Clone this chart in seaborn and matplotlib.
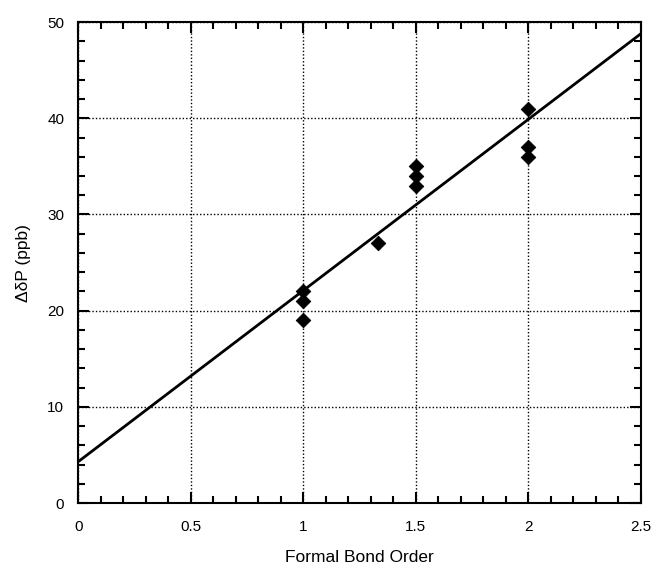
import numpy as np
import pandas as pd
import matplotlib
matplotlib.use("Agg")
import matplotlib.pyplot as plt
from matplotlib.ticker import MultipleLocator
import seaborn as sns

# data
bond_order = [1, 1, 1, 1.33, 1.5, 1.5, 1.5, 2, 2, 2]
delta_p = [19, 21, 22, 27, 33, 34, 35, 36, 37, 41]
fit_x = [0, 2.5]
fit_y = [4.3, 48.8]

xticks = [0, 0.5, 1, 1.5, 2, 2.5]
xtick_labels = ["0", "0.5", "1", "1.5", "2", "2.5"]
yticks = [0, 10, 20, 30, 40, 50]

sns.set_style("ticks")
plt.rcParams['font.family'] = ['Liberation Sans', 'DejaVu Sans']
plt.rcParams['text.color'] = 'black'
plt.rcParams['axes.labelcolor'] = 'black'
plt.rcParams['xtick.labelcolor'] = 'black'
plt.rcParams['ytick.labelcolor'] = 'black'

df = pd.DataFrame({"x": bond_order, "y": delta_p})
fit = pd.DataFrame({"x": fit_x, "y": fit_y})

fig = plt.figure(figsize=(6.52, 5.68), dpi=100)
ax = fig.add_axes([0.120, 0.1144, 0.863, 0.8466])

sns.lineplot(data=fit, x="x", y="y", ax=ax, color="black", linewidth=2)
sns.scatterplot(data=df, x="x", y="y", ax=ax, marker="D", s=55,
                color="black", edgecolor="black", zorder=5)

ax.set_xlim(0, 2.5)
ax.set_ylim(0, 50)
ax.set_xticks(xticks)
ax.set_xticklabels(xtick_labels)
ax.set_yticks(yticks)
ax.xaxis.set_minor_locator(MultipleLocator(0.1))
ax.yaxis.set_minor_locator(MultipleLocator(2))
ax.tick_params(which="both", direction="in", top=True, right=True,
               color="black", labelsize=11, width=1.5)
ax.tick_params(axis="x", which="major", length=8, pad=12)
ax.tick_params(axis="y", which="major", length=8, pad=10)
ax.tick_params(which="minor", length=5)
ax.grid(True, which="major", linestyle=(0, (1, 1.5)), color="black", linewidth=1)
for sp in ax.spines.values():
    sp.set_linewidth(1.5)
    sp.set_color("black")

ax.set_xlabel("Formal Bond Order", fontsize=12.5, labelpad=12)
ax.set_ylabel("ΔδP (ppb)", fontsize=12.5, labelpad=12)

fig.savefig("out.png", dpi=100)
